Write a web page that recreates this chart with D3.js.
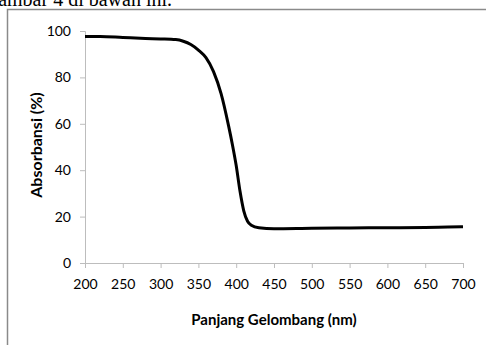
<!DOCTYPE html>
<html>
<head>
<meta charset="utf-8">
<script src="https://cdn.jsdelivr.net/npm/d3@7"></script>
<style>
    body { margin: 0; background: #fff; }
    svg { display: block; }
</style>
</head>
<body>
<div id="chart"></div>
<script>
// data
var wavelength = [200, 220, 250, 280, 300, 320, 330, 340, 350, 360, 370, 380, 390, 395, 400, 405, 410, 415, 420, 430, 450, 500, 550, 600, 650, 680, 700];
var absorbance = [97.6, 97.6, 97.2, 96.8, 96.6, 96.3, 95.6, 94.2, 91.8, 88.5, 82.5, 73, 59, 51, 42, 31, 22.5, 18, 16.3, 15.2, 14.8, 15, 15.1, 15.2, 15.3, 15.5, 15.6];
var xTicks = [200, 250, 300, 350, 400, 450, 500, 550, 600, 650, 700];
var yTicks = [0, 20, 40, 60, 80, 100];

var width = 487,
    height = 345,
    margin = { top: 31, right: 24, bottom: 82, left: 85 };

var svg = d3.select('#chart').append('svg')
    .attr('width', width)
    .attr('height', height);

// cut-off caption line from the page above the figure
svg.append('text')
    .attr('x', 172)
    .attr('y', 6)
    .style('text-anchor', 'end')
    .style('font-family', '"Liberation Serif", serif')
    .style('font-size', '20px')
    .text('Gambar 4 di bawah ini.');

// chart frame
svg.append('path')
    .attr('d', 'M7.5,' + height + 'V9.5H486')
    .attr('fill', 'none')
    .attr('stroke', '#8a8a8a')
    .attr('stroke-width', 1.5);

var x = d3.scaleLinear().domain([200, 700]).range([margin.left, width - margin.right]);
var y = d3.scaleLinear().domain([0, 100]).range([height - margin.bottom, margin.top]);

var font = 'Lato, "Open Sans", sans-serif';

var xAxis = svg.append('g')
    .attr('transform', 'translate(0,' + y(0) + ')')
    .call(d3.axisBottom(x).tickValues(xTicks).tickSize(5).tickPadding(11));
var yAxis = svg.append('g')
    .attr('transform', 'translate(' + x(200) + ',0)')
    .call(d3.axisLeft(y).tickValues(yTicks).tickSize(5).tickPadding(9));

[xAxis, yAxis].forEach(function(a) {
    a.select('.domain').attr('stroke', '#bdbdbd');
    a.selectAll('.tick line').attr('stroke', '#bdbdbd');
    a.selectAll('.tick text')
        .style('font-family', font)
        .style('font-size', '14px')
        .attr('fill', '#000');
});

var line = d3.line()
    .x(function(d) { return x(d[0]); })
    .y(function(d) { return y(d[1]); })
    .curve(d3.curveMonotoneX);

svg.append('path')
    .datum(d3.zip(wavelength, absorbance))
    .attr('d', line)
    .attr('fill', 'none')
    .attr('stroke', '#000')
    .attr('stroke-width', 3)
    .attr('stroke-linejoin', 'round');

// axis titles
svg.append('text')
    .attr('x', 274)
    .attr('y', 325)
    .style('text-anchor', 'middle')
    .style('font-family', font)
    .style('font-size', '15px')
    .style('font-weight', 'bold')
    .text('Panjang Gelombang (nm)');

svg.append('text')
    .attr('transform', 'translate(42,145) rotate(-90)')
    .style('text-anchor', 'middle')
    .style('font-family', font)
    .style('font-size', '16px')
    .style('font-weight', 'bold')
    .text('Absorbansi (%)');
</script>
</body>
</html>
